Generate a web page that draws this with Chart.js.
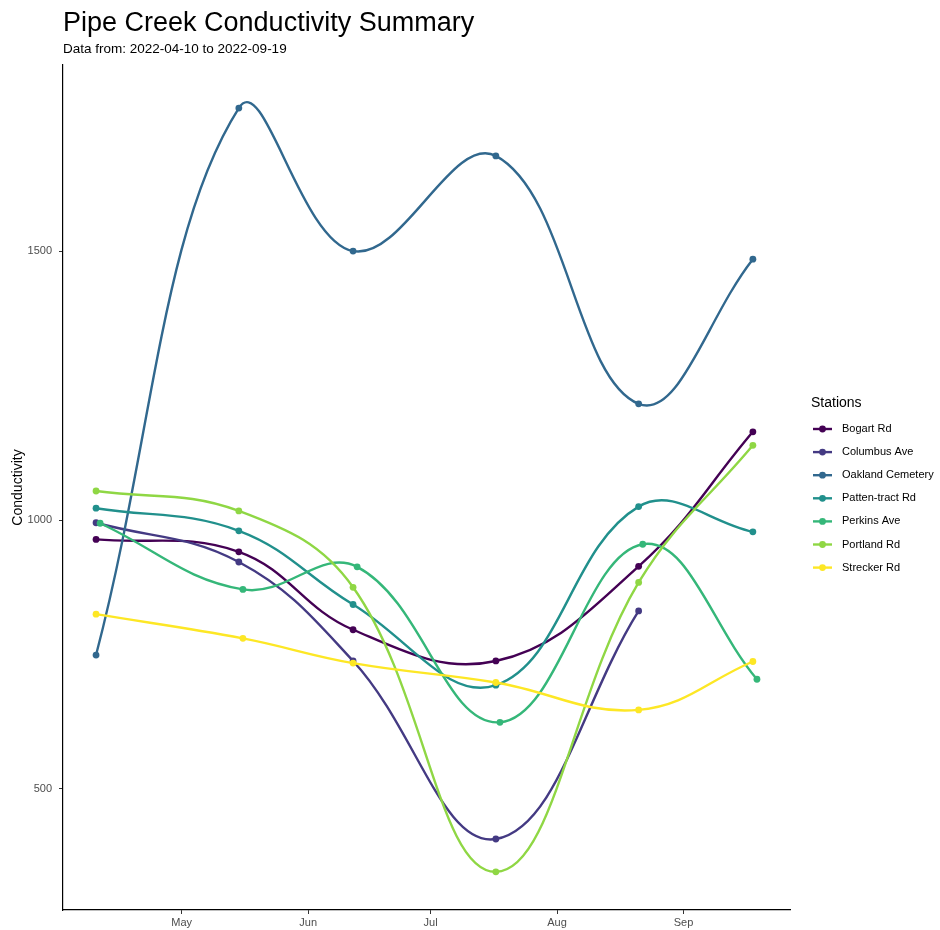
<!DOCTYPE html>
<html>
<head>
<meta charset="utf-8">
<script src="https://cdn.jsdelivr.net/npm/chart.js@4"></script>
<style>
  html, body { margin: 0; padding: 0; background: #fff; }
  #wrap { width: 940px; height: 930px; position: relative; }
</style>
</head>
<body>
<div id="wrap"><canvas id="chart" width="940" height="930"></canvas></div>
<script>
const stations = ['Bogart Rd', 'Columbus Ave', 'Oakland Cemetery', 'Patten-tract Rd', 'Perkins Ave', 'Portland Rd', 'Strecker Rd'];
const colors = ['#440154', '#443A83', '#31688E', '#21908C', '#35B779', '#8FD744', '#FDE725'];

// sample dates (Perkins went out a day later, Strecker once)
const baseDates = ['2022-04-10', '2022-05-15', '2022-06-12', '2022-07-17', '2022-08-21', '2022-09-18'];
const perkinsDates = ['2022-04-11', '2022-05-16', '2022-06-13', '2022-07-18', '2022-08-22', '2022-09-19'];
const streckerDates = ['2022-04-10', '2022-05-16', '2022-06-12', '2022-07-17', '2022-08-21', '2022-09-18'];

const bogart = [964, 941, 796, 738, 914, 1164];
const columbus = [995, 922, 738, 407, 831];
const oakland = [749, 1766, 1500, 1677, 1216, 1485];
const patten = [1022, 980, 843, 693, 1025, 978];
const perkins = [994, 871, 913, 624, 955, 704];
const portland = [1054, 1017, 875, 346, 884, 1139];
const strecker = [825, 780, 734, 698, 647, 737];

const monthTicks = ['2022-05-01', '2022-06-01', '2022-07-01', '2022-08-01', '2022-09-01'];
const monthLabels = ['May', 'Jun', 'Jul', 'Aug', 'Sep'];
const yTicks = [500, 1000, 1500];

const stationDates = [baseDates, baseDates, baseDates, baseDates, perkinsDates, baseDates, streckerDates];
const stationValues = [bogart, columbus, oakland, patten, perkins, portland, strecker];

function dayNum(s) {
  const p = s.split('-').map(Number);
  return (Date.UTC(p[0], p[1] - 1, p[2]) - Date.UTC(p[0], 0, 1)) / 86400000 + 1;
}

const tickDays = monthTicks.map(dayNum);
const allDays = [].concat(...stationDates.map(d => d.map(dayNum)));
const dMin = Math.min(...allDays), dMax = Math.max(...allDays);
const pad = (dMax - dMin) * 0.05;

const datasets = stations.map((name, i) => ({
  label: name,
  data: stationValues[i].map((v, j) => ({ x: dayNum(stationDates[i][j]), y: v })),
  borderColor: colors[i],
  backgroundColor: colors[i],
  borderWidth: 2.4,
  pointRadius: 3.4,
  pointBorderWidth: 0,
  tension: 0.4,
  fill: false,
  order: stations.length - i
}));

const FONT = 'Liberation Sans, Arial, Helvetica, sans-serif';

const decor = {
  id: 'decor',
  afterDraw(chart) {
    const ctx = chart.ctx;
    const area = chart.chartArea;
    ctx.save();
    ctx.fillStyle = '#000';
    ctx.textBaseline = 'alphabetic';
    ctx.textAlign = 'left';
    ctx.font = '27px ' + FONT;
    ctx.fillText('Pipe Creek Conductivity Summary', area.left, 31);
    ctx.font = '13.5px ' + FONT;
    ctx.fillText('Data from: 2022-04-10 to 2022-09-19', area.left, 53);

    // legend
    ctx.font = '14px ' + FONT;
    ctx.textBaseline = 'middle';
    ctx.fillText('Stations', 811, 403);
    ctx.font = '11px ' + FONT;
    stations.forEach((name, i) => {
      const y = 429 + i * 23.1;
      ctx.strokeStyle = colors[i];
      ctx.lineWidth = 2.4;
      ctx.beginPath();
      ctx.moveTo(813, y);
      ctx.lineTo(832, y);
      ctx.stroke();
      ctx.fillStyle = colors[i];
      ctx.beginPath();
      ctx.arc(822.5, y, 3.4, 0, Math.PI * 2);
      ctx.fill();
      ctx.fillStyle = '#000';
      ctx.fillText(name, 842, y);
    });
    ctx.restore();
  }
};

new Chart(document.getElementById('chart').getContext('2d'), {
  type: 'line',
  data: { datasets },
  options: {
    responsive: false,
    animation: false,
    layout: { padding: { top: 65, right: 150, left: 10, bottom: 0 } },
    plugins: { legend: { display: false }, tooltip: { enabled: false } },
    scales: {
      x: {
        type: 'linear',
        min: dMin - pad,
        max: dMax + pad,
        afterBuildTicks(scale) { scale.ticks = tickDays.map(v => ({ value: v })); },
        afterFit(scale) { scale.height = 20; },
        ticks: {
          callback(v) { const k = tickDays.indexOf(v); return k >= 0 ? monthLabels[k] : ''; },
          color: '#4d4d4d',
          font: { family: FONT, size: 11 },
          padding: 2,
          maxRotation: 0,
          autoSkip: false
        },
        grid: { display: true, drawOnChartArea: false, drawTicks: true, tickLength: 4, color: '#333', lineWidth: 1 },
        border: { display: true, color: '#000', width: 1.2 }
      },
      y: {
        min: 275,
        max: 1846,
        afterBuildTicks(scale) { scale.ticks = yTicks.map(v => ({ value: v })); },
        afterFit(scale) { scale.width = 53; },
        title: { display: true, text: 'Conductivity', color: '#000', font: { family: FONT, size: 14 }, padding: { top: 0, bottom: 0 } },
        ticks: {
          callback(v) { return String(v); },
          color: '#4d4d4d',
          font: { family: FONT, size: 11 },
          padding: 7
        },
        grid: { display: true, drawOnChartArea: false, drawTicks: true, tickLength: 4, color: '#333', lineWidth: 1 },
        border: { display: true, color: '#000', width: 1.2 }
      }
    }
  },
  plugins: [decor]
});
</script>
</body>
</html>
